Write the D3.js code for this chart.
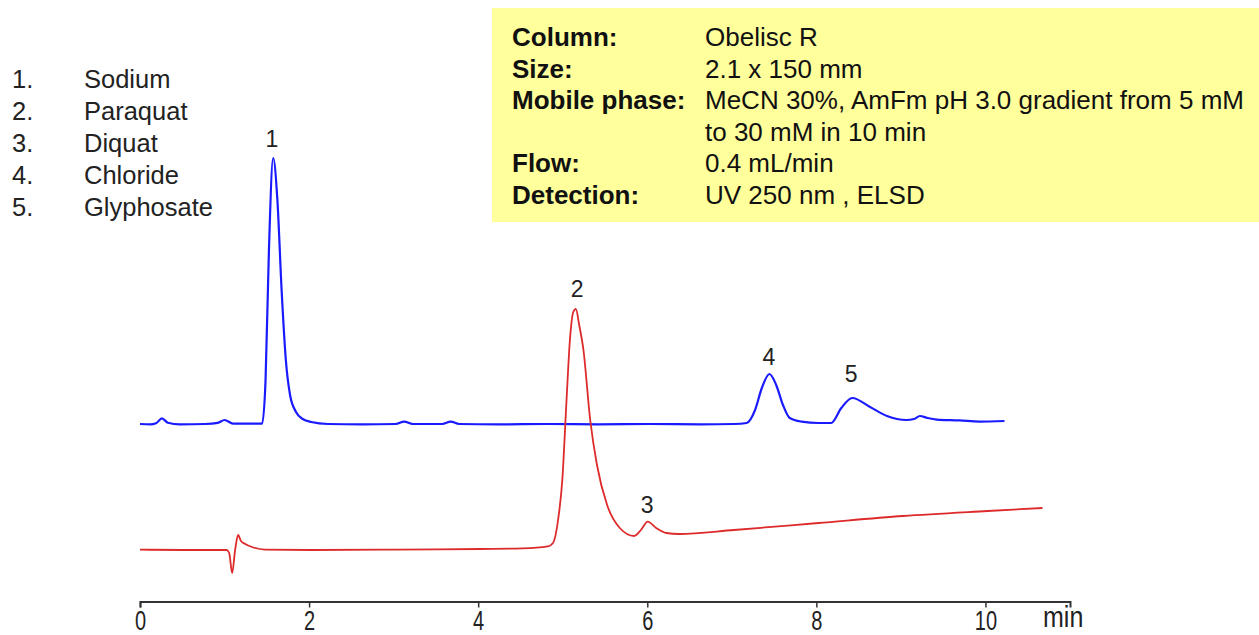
<!DOCTYPE html>
<html>
<head>
<meta charset="utf-8">
<script src="https://cdn.jsdelivr.net/npm/d3@7"></script>
<style>
  html, body { margin: 0; padding: 0; background: #ffffff; }
  svg { display: block; font-family: "Liberation Sans", Arial, sans-serif; }
</style>
</head>
<body>
<svg id="chart" width="1259" height="635"></svg>
<script>
// ---------------- DATA ----------------
// Blue trace (ELSD) : retention time (min), signal (a.u.)
const blueTime = [0.00,0.12,0.19,0.26,0.33,0.47,0.77,0.92,1.00,1.10,1.32,1.445,1.485,1.525,1.575,1.625,1.675,1.725,1.775,1.845,1.925,2.025,2.225,2.625,3.025,3.125,3.225,3.575,3.675,3.775,4.225,4.825,5.425,6.025,6.625,7.025,7.175,7.275,7.355,7.445,7.525,7.605,7.685,7.825,8.025,8.175,8.295,8.425,8.635,8.835,9.065,9.155,9.225,9.315,9.425,9.695,9.925,10.225];
const blueSignal = [44.0,43.9,44.2,45.4,44.3,43.9,44.0,44.3,45.0,44.1,44.1,44.1,55,87.5,110.5,100,77.5,60,51.25,47,45.25,44.5,44.0,43.9,44.0,44.6,44.0,44.0,44.6,44.0,43.9,44.0,43.9,44.0,43.9,44.0,44.25,47.5,53,56.5,53.75,48.75,45.5,44.6,44.25,44.25,48,50.5,48.25,46,45,45.25,46,45.5,45.1,44.9,44.6,44.75];

// Red trace (UV 250 nm)
const redTime = [0.00,0.525,1.025,1.055,1.09,1.125,1.16,1.195,1.245,1.325,1.475,2.025,3.025,4.025,4.525,4.825,4.885,4.945,4.995,5.045,5.085,5.125,5.155,5.195,5.245,5.325,5.405,5.525,5.675,5.845,5.925,6.005,6.105,6.225,6.375,7.025,8.025,9.025,10.025,10.675];
const redSignal = [12.6,12.5,12.5,11.75,6.75,12.5,16.25,14.75,14,13.25,12.6,12.5,12.6,12.75,12.9,13.4,14.25,20,30,50,65,72,72.75,68.75,62.5,45,33.75,23.75,18,16,17.5,19.6,18,16.75,16.5,17.5,19.25,21,22.25,23];

// Peak annotations
const peakLabels = ["1","2","3","4","5"];
const peakLabelTime = [1.56,5.17,6.00,7.44,8.41];
const peakLabelSignal = [113.25,75.75,21.75,58.75,54.5];

// Legend (compound list)
const legendNumbers = ["1.","2.","3.","4.","5."];
const legendNames = ["Sodium","Paraquat","Diquat","Chloride","Glyphosate"];

// Conditions box
const condLabels = ["Column:","Size:","Mobile phase:","","Flow:","Detection:"];
const condValues = ["Obelisc R","2.1 x 150 mm","MeCN 30%, AmFm pH 3.0 gradient from 5 mM","to 30 mM in 10 min","0.4 mL/min","UV 250 nm , ELSD"];

// Axis
const xTicks = [0,2,4,6,8,10];
const xDomain = [0,11];
const yDomain = [0,115];
const xUnit = "min";

// ---------------- DRAW ----------------
const svg = d3.select("#chart");

const x = d3.scaleLinear().domain(xDomain).range([140, 1070]);
const y = d3.scaleLinear().domain(yDomain).range([600, 140]);

// Conditions box
const box = svg.append("g");
box.append("rect")
  .attr("x", 492).attr("y", 8).attr("width", 767).attr("height", 214)
  .attr("fill", "#ffff9c");
const lineY = d3.scaleLinear().domain([0, condLabels.length - 1]).range([46, 204]);
box.selectAll("text.lab").data(condLabels).join("text")
  .attr("class", "lab")
  .attr("x", 512).attr("y", (d, i) => lineY(i))
  .attr("font-size", 26).attr("font-weight", "bold").attr("fill", "#111")
  .text(d => d);
box.selectAll("text.val").data(condValues).join("text")
  .attr("class", "val")
  .attr("x", 705).attr("y", (d, i) => lineY(i))
  .attr("font-size", 26).attr("fill", "#111")
  .text(d => d);

// Legend
const legY = d3.scaleLinear().domain([0, legendNames.length - 1]).range([88, 216]);
svg.selectAll("text.lnum").data(legendNumbers).join("text")
  .attr("class", "lnum")
  .attr("x", 12).attr("y", (d, i) => legY(i))
  .attr("font-size", 25.5).attr("fill", "#222")
  .text(d => d);
svg.selectAll("text.lname").data(legendNames).join("text")
  .attr("class", "lname")
  .attr("x", 84).attr("y", (d, i) => legY(i))
  .attr("font-size", 25.5).attr("fill", "#222")
  .text(d => d);

// Traces
const line = d3.line()
  .x(d => x(d[0]))
  .y(d => y(d[1]))
  .curve(d3.curveMonotoneX);

const blueData = blueTime.map((t, i) => [t, blueSignal[i]]);
const redData = redTime.map((t, i) => [t, redSignal[i]]);

svg.append("path")
  .attr("d", line(blueData))
  .attr("fill", "none")
  .attr("stroke", "#1a1aff")
  .attr("stroke-width", 2.2)
  .attr("stroke-linejoin", "round");

svg.append("path")
  .attr("d", line(redData))
  .attr("fill", "none")
  .attr("stroke", "#dd2a2a")
  .attr("stroke-width", 1.8)
  .attr("stroke-linejoin", "round");

// Peak labels
svg.selectAll("text.peak").data(peakLabels).join("text")
  .attr("class", "peak")
  .attr("x", (d, i) => x(peakLabelTime[i]))
  .attr("y", (d, i) => y(peakLabelSignal[i]))
  .attr("text-anchor", "middle")
  .attr("font-size", 23).attr("fill", "#222")
  .text(d => d);

// X axis
const axis = d3.axisBottom(x)
  .tickValues(xTicks)
  .tickSize(6)
  .tickSizeOuter(6)
  .tickFormat(d3.format("d"));

const gx = svg.append("g")
  .attr("transform", "translate(0,601.5)")
  .call(axis);
gx.select(".domain").attr("stroke", "#333").attr("stroke-width", 2);
gx.selectAll(".tick line").attr("stroke", "#333").attr("stroke-width", 1.5);
gx.selectAll(".tick text")
  .attr("y", null).attr("dy", null)
  .attr("transform", "translate(0,28.5) scale(1,1.4)")
  .attr("font-size", 20)
  .attr("font-family", "'Liberation Sans', Arial, sans-serif")
  .attr("fill", "#222");

svg.append("text")
  .attr("transform", `translate(${x(xDomain[1]) - 27},627) scale(1,1.15)`)
  .attr("font-size", 25).attr("fill", "#222")
  .text(xUnit);
</script>
</body>
</html>
